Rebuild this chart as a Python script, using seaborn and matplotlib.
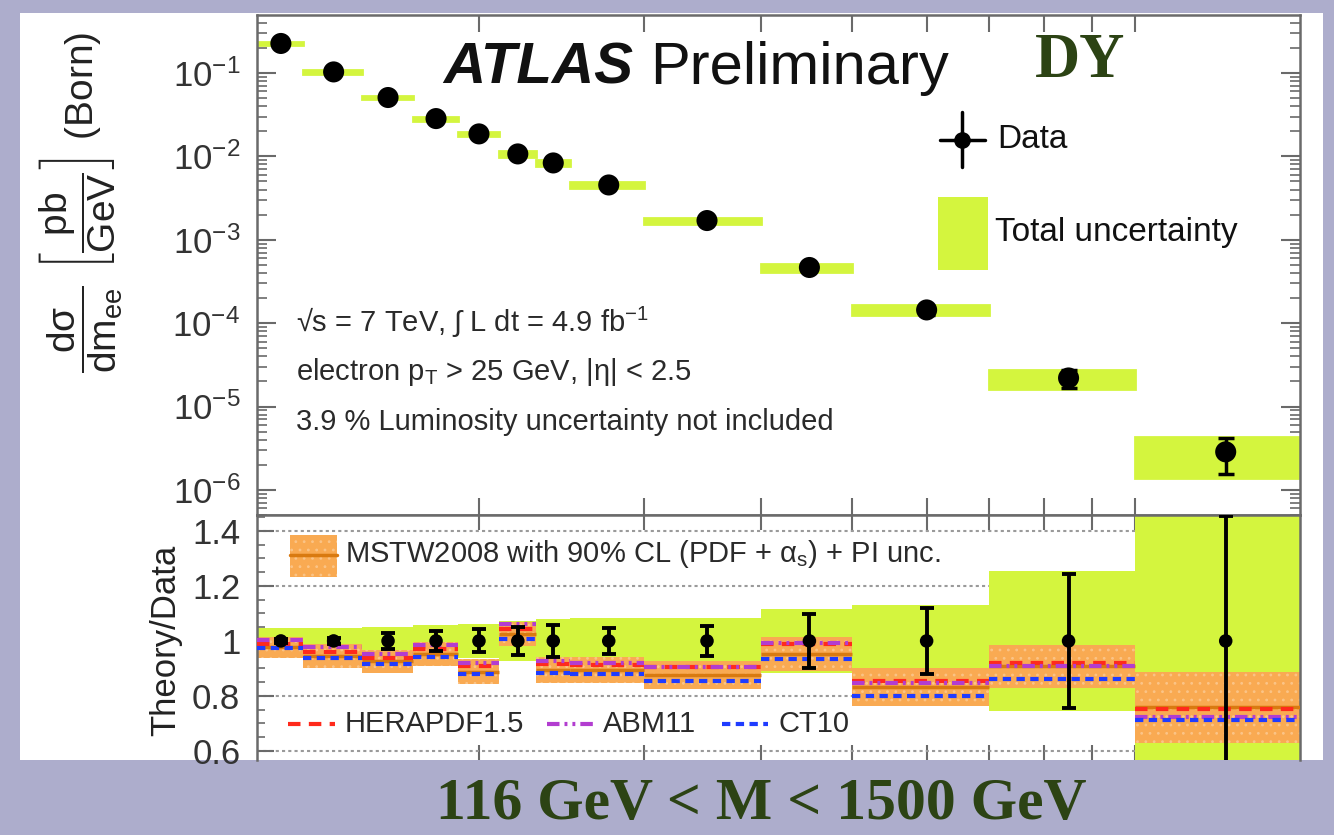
import numpy as np
import pandas as pd
import matplotlib
matplotlib.use("Agg")
import matplotlib.pyplot as plt
import seaborn as sns
from matplotlib.patches import Rectangle
from matplotlib.lines import Line2D
from matplotlib.ticker import FixedLocator, NullFormatter, NullLocator, LogLocator, MultipleLocator, FuncFormatter

# ---------------------------------------------------------------- data
# dielectron invariant-mass bins (GeV)
bin_edges = [116, 130, 150, 170, 190, 210, 230, 250, 300, 400, 500, 700, 1000, 1500]

# Born-level differential cross section dσ/dm_ee (pb/GeV)
xsec = [0.226, 0.103, 0.0508, 0.0284, 0.0186, 0.0107, 0.00834, 0.00454,
        0.00170, 4.65e-4, 1.44e-4, 2.20e-5, 2.86e-6]

# relative total uncertainty (green band) and relative data error (error bars)
total_unc = [0.046, 0.048, 0.052, 0.058, 0.063, 0.072, 0.078, 0.082,
             0.085, 0.116, 0.131, 0.256, 0.51]
data_err = [0.008, 0.010, 0.030, 0.036, 0.042, 0.050, 0.058, 0.048,
            0.053, 0.098, 0.119, 0.244, 0.455]

# data / data in the ratio panel
data_ratio = [1.0, 1.0, 1.0, 1.0, 1.0, 1.0, 1.0, 1.0, 1.0, 1.0, 1.0, 1.0, 1.0]

# theory / data predictions
mstw = [0.977, 0.946, 0.926, 0.952, 0.888, 1.026, 0.894, 0.894, 0.876, 0.953, 0.833, 0.908, 0.758]
mstw_unc = [0.038, 0.043, 0.041, 0.043, 0.046, 0.044, 0.046, 0.046, 0.052, 0.062, 0.069, 0.078, 0.128]
herapdf = [0.988, 0.961, 0.939, 0.972, 0.909, 1.042, 0.915, 0.913, 0.905, 0.988, 0.855, 0.921, 0.752]
abm11 = [1.002, 0.978, 0.954, 0.985, 0.921, 1.061, 0.927, 0.921, 0.907, 0.994, 0.848, 0.909, 0.722]
ct10 = [0.973, 0.939, 0.915, 0.943, 0.879, 1.006, 0.885, 0.879, 0.855, 0.933, 0.800, 0.861, 0.712]

x_major_ticks = [200, 300, 400, 500, 600, 700, 800, 900, 1000]
ratio_ticks = [0.6, 0.8, 1.0, 1.2, 1.4]

# ---------------------------------------------------------------- style
sns.set_theme(style="ticks")
plt.rcParams["font.family"] = ["Liberation Sans", "DejaVu Sans"]
plt.rcParams["mathtext.fontset"] = "custom"
plt.rcParams["mathtext.rm"] = "Liberation Sans"
plt.rcParams["mathtext.it"] = "Liberation Sans"
plt.rcParams["mathtext.sf"] = "Liberation Sans"
plt.rcParams["mathtext.bf"] = "Liberation Sans:bold"
plt.rcParams["hatch.linewidth"] = 0.8

SLIDE = "#adadcc"
GREEN = "#d4f53e"
ORANGE = "#f9aa52"
ORANGE_DARK = "#d97a10"
TITLE_GREEN = "#2c4314"
SPINE = "#6a6a6a"

W, H = 1334, 835
fig = plt.figure(figsize=(W / 100, H / 100), dpi=100)
fig.patch.set_facecolor(SLIDE)


def fpos(x, y):
    return x / W, 1 - y / H


# white slide panel behind the plot
fig.add_artist(Rectangle(fpos(20, 760), 1303 / W, 747 / H, transform=fig.transFigure,
                         facecolor="white", edgecolor="none", zorder=-5))

L, R, T, MID, B = 257, 1300, 15, 515, 760
ax_top = fig.add_axes([L / W, 1 - MID / H, (R - L) / W, (MID - T) / H])
ax_rat = fig.add_axes([L / W, 1 - B / H, (R - L) / W, (B - MID) / H], sharex=ax_top)
for ax in (ax_top, ax_rat):
    ax.set_facecolor("white")

edges = np.array(bin_edges, dtype=float)
lefts = edges[:-1]
widths = np.diff(edges)
centers = 0.5 * (edges[:-1] + edges[1:])
xs = np.array(xsec)
u_tot = np.array(total_unc)
u_dat = np.array(data_err)

# ---------------------------------------------------------------- top panel
ax_top.set_xscale("log")
ax_top.set_yscale("log")
ax_top.bar(lefts, xs * (1 + u_tot) - xs * (1 - u_tot), bottom=xs * (1 - u_tot), width=widths,
           align="edge", color=GREEN, edgecolor=GREEN, linewidth=2.0, zorder=2)
ax_top.errorbar(centers, xs, yerr=xs * u_dat, fmt="none", ecolor="black",
                elinewidth=2.5, capsize=6, capthick=2.5, zorder=4)
top_df = pd.DataFrame({"mass": centers, "xsec": xs})
sns.scatterplot(data=top_df, x="mass", y="xsec", ax=ax_top, s=230, color="black",
                edgecolor="none", linewidth=0, zorder=5, legend=False)

ax_top.set_xlim(116, 1500)
ax_top.set_ylim(5.0e-7, 0.496)
ax_top.set_xlabel("")
ax_top.set_ylabel(r"$\mathregular{\dfrac{d\sigma}{dm_{ee}}\ \left[\dfrac{pb}{GeV}\right]}$ (Born)",
                  fontsize=28, color="#222222")
ax_top.yaxis.set_label_coords((125 - L) / (R - L), (MID - 202) / (MID - T))

ax_top.yaxis.set_major_locator(FixedLocator([1e-6, 1e-5, 1e-4, 1e-3, 1e-2, 1e-1]))
ax_top.yaxis.set_minor_locator(LogLocator(base=10, subs=np.arange(2, 10)))
ax_top.yaxis.set_minor_formatter(NullFormatter())
ax_top.yaxis.set_major_formatter(
    FuncFormatter(lambda v, p: r"$\mathregular{10^{%d}}$" % int(round(np.log10(v)))))
ax_top.xaxis.set_major_locator(FixedLocator(x_major_ticks))
ax_top.xaxis.set_minor_locator(NullLocator())
ax_top.tick_params(axis="x", which="major", direction="in", top=True, bottom=True,
                   length=12, width=1.5, color=SPINE, labelbottom=False)
ax_top.tick_params(axis="y", which="major", direction="in", left=True, right=True,
                   length=14, width=1.5, color=SPINE, labelsize=25, pad=12, labelcolor="#333333")
ax_top.tick_params(axis="y", which="minor", direction="in", left=True, right=True,
                   length=7, width=1.2, color=SPINE)

# ---------------------------------------------------------------- ratio panel
ax_rat.bar(lefts, 2 * u_tot, bottom=1 - u_tot, width=widths, align="edge",
           color=GREEN, edgecolor="none", linewidth=0, zorder=1)
mstw_a = np.array(mstw)
mstw_u = np.array(mstw_unc)
ax_rat.bar(lefts, 2 * mstw_u, bottom=mstw_a - mstw_u, width=widths, align="edge",
           color=ORANGE, edgecolor="#fbc487", hatch="..", linewidth=0, zorder=2)
ax_rat.hlines(mstw, lefts, edges[1:], colors=ORANGE_DARK, linewidth=2.5, zorder=3)
ax_rat.hlines(herapdf, lefts, edges[1:], colors="#ff2a1c", linewidth=3,
              linestyles=[(0, (3, 2))], zorder=4)
ax_rat.hlines(abm11, lefts, edges[1:], colors="#b23dd0", linewidth=3,
              linestyles=[(0, (3, 1.2, 0.7, 1.2, 0.7, 1.2))], zorder=4)
ax_rat.hlines(ct10, lefts, edges[1:], colors="#1f3cff", linewidth=3,
              linestyles=[(0, (2, 1.3))], zorder=4)

ax_rat.errorbar(centers, data_ratio, yerr=u_dat, fmt="none", ecolor="black",
                elinewidth=2.8, capsize=5, capthick=2.8, zorder=6)
rat_df = pd.DataFrame({"mass": centers, "ratio": data_ratio})
sns.scatterplot(data=rat_df, x="mass", y="ratio", ax=ax_rat, s=95, color="black",
                edgecolor="none", linewidth=0, zorder=7, legend=False)

ax_rat.set_ylim(0.567, 1.458)
ax_rat.set_xlabel("")
ax_rat.set_ylabel("Theory/Data", fontsize=25, color="#222222")
ax_rat.yaxis.set_label_coords((182 - L) / (R - L), (B - 640) / (B - MID))
ax_rat.yaxis.set_major_locator(FixedLocator(ratio_ticks))
ax_rat.yaxis.set_major_formatter(FuncFormatter(lambda v, p: "1" if abs(v - 1) < 1e-9 else "%.1f" % v))
ax_rat.yaxis.set_minor_locator(MultipleLocator(0.05))
ax_rat.xaxis.set_major_locator(FixedLocator(x_major_ticks))
ax_rat.xaxis.set_minor_locator(NullLocator())
ax_rat.grid(axis="y", which="major", linestyle=(0, (1.5, 1.5)), color="#9a9a9a", linewidth=1.5)
ax_rat.set_axisbelow(True)
ax_rat.tick_params(axis="x", which="major", direction="in", top=True, bottom=True,
                   length=11, width=1.5, color=SPINE, labelbottom=False)
ax_rat.tick_params(axis="y", which="major", direction="in", left=True, right=True,
                   length=12, width=1.5, color=SPINE, labelsize=25, pad=12, labelcolor="#333333")
ax_rat.tick_params(axis="y", which="minor", direction="in", left=True, right=True,
                   length=6, width=1.2, color=SPINE)
ax_rat.spines["bottom"].set_visible(False)

for ax in (ax_top, ax_rat):
    for side in ("left", "right", "top", "bottom"):
        ax.spines[side].set_color(SPINE)
        ax.spines[side].set_linewidth(1.8)


# ---------------------------------------------------------------- annotations
def tpos(x, y):
    return (x - L) / (R - L), (MID - y) / (MID - T)


def rpos(x, y):
    return (x - L) / (R - L), (B - y) / (B - MID)


ax_top.text(*tpos(443, 68), "ATLAS", transform=ax_top.transAxes, fontsize=42,
            fontweight="bold", fontstyle="italic", va="center", ha="left", color="#111111")
ax_top.text(*tpos(650, 68), "Preliminary", transform=ax_top.transAxes, fontsize=43,
            va="center", ha="left", color="#111111")

info_kw = dict(transform=ax_top.transAxes, fontsize=21, va="center", ha="left", color="#2a2a2a")
ax_top.text(*tpos(296, 322), r"√s = 7 TeV, ∫ L dt = 4.9 fb$^{\mathregular{-1}}$", **info_kw)
ax_top.text(*tpos(296, 372), r"electron p$_{\mathregular{T}}$ > 25 GeV, |η| < 2.5", **info_kw)
ax_top.text(*tpos(296, 422), "3.9 % Luminosity uncertainty not included", **info_kw)

# legend: data point with error cross
ax_top.add_line(Line2D([tpos(940, 0)[0], tpos(985, 0)[0]], [tpos(0, 140)[1]] * 2,
                       transform=ax_top.transAxes, color="black", lw=2.5, zorder=6))
ax_top.add_line(Line2D([tpos(962, 0)[0]] * 2, [tpos(0, 112)[1], tpos(0, 167)[1]],
                       transform=ax_top.transAxes, color="black", lw=2.5, zorder=6))
ax_top.add_line(Line2D([tpos(962, 0)[0]], [tpos(0, 140)[1]], transform=ax_top.transAxes,
                       marker="o", markersize=11, color="black", zorder=7))
ax_top.text(*tpos(997, 140), "Data", transform=ax_top.transAxes, fontsize=24,
            va="center", ha="left", color="#111111")
x0, y0 = tpos(938, 270)
x1, y1 = tpos(988, 197)
ax_top.add_patch(Rectangle((x0, y0), x1 - x0, y1 - y0, transform=ax_top.transAxes,
                           facecolor=GREEN, edgecolor="none", zorder=6))
ax_top.text(*tpos(995, 233), "Total uncertainty", transform=ax_top.transAxes, fontsize=24,
            va="center", ha="left", color="#111111")

# ratio legend
x0, y0 = rpos(290, 577)
x1, y1 = rpos(337, 535)
ax_rat.add_patch(Rectangle((x0, y0), x1 - x0, y1 - y0, transform=ax_rat.transAxes,
                           facecolor=ORANGE, edgecolor="#fbc487", hatch="..", linewidth=0, zorder=8))
ax_rat.add_line(Line2D([x0, x1], [rpos(0, 555)[1]] * 2, transform=ax_rat.transAxes,
                       color=ORANGE_DARK, lw=2.5, zorder=9))
leg_kw = dict(transform=ax_rat.transAxes, fontsize=21, va="center", ha="left", color="#2a2a2a", zorder=9)
ax_rat.text(*rpos(345, 554), r"MSTW2008 with 90% CL (PDF + α$_{\mathregular{s}}$) + PI unc.", **leg_kw)

leg_y = rpos(0, 724)[1]
ax_rat.add_line(Line2D([rpos(288, 0)[0], rpos(335, 0)[0]], [leg_y] * 2, transform=ax_rat.transAxes,
                       color="#ff2a1c", lw=3, linestyle=(0, (3, 2)), zorder=9))
ax_rat.text(*rpos(345, 724), "HERAPDF1.5", **leg_kw)
ax_rat.add_line(Line2D([rpos(547, 0)[0], rpos(594, 0)[0]], [leg_y] * 2, transform=ax_rat.transAxes,
                       color="#b23dd0", lw=3, linestyle=(0, (3, 1.2, 0.7, 1.2, 0.7, 1.2)), zorder=9))
ax_rat.text(*rpos(603, 724), "ABM11", **leg_kw)
ax_rat.add_line(Line2D([rpos(722, 0)[0], rpos(768, 0)[0]], [leg_y] * 2, transform=ax_rat.transAxes,
                       color="#1f3cff", lw=3, linestyle=(0, (2, 1.3)), zorder=9))
ax_rat.text(*rpos(778, 724), "CT10", **leg_kw)

# slide titles
fig.text(*fpos(1080, 62), "DY", fontsize=45, fontweight="bold", family="Liberation Serif",
         color=TITLE_GREEN, ha="center", va="center")
fig.text(*fpos(761, 805), "116 GeV < M < 1500 GeV", fontsize=43, fontweight="bold",
         family="Liberation Serif", color=TITLE_GREEN, ha="center", va="center")

fig.savefig("out.png", dpi=100, facecolor=fig.get_facecolor())
